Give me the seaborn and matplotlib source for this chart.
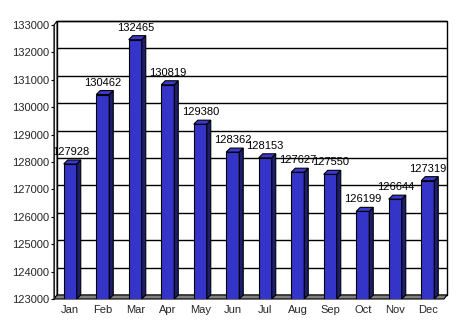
import matplotlib
matplotlib.use("Agg")
import matplotlib.pyplot as plt
import matplotlib.transforms as mtransforms
from matplotlib.patches import Polygon, Rectangle
import seaborn as sns
import pandas as pd

months = ["Jan", "Feb", "Mar", "Apr", "May", "Jun", "Jul", "Aug", "Sep", "Oct", "Nov", "Dec"]
values = [127928, 130462, 132465, 130819, 129380, 128362, 128153, 127627, 127550, 126199, 126644, 127319]
y_ticks = [123000, 124000, 125000, 126000, 127000, 128000, 129000, 130000, 131000, 132000, 133000]

sns.set_style("white")
plt.rcParams['font.family'] = ['Liberation Sans', 'DejaVu Sans']

W, H = 462, 325
fig = plt.figure(figsize=(W / 100, H / 100), dpi=100)
ax = fig.add_axes([54 / W, (H - 299) / H, 390 / W, 274 / H])
ax.patch.set_alpha(0)

df = pd.DataFrame({"month": months, "value": values})
sns.barplot(data=df, x="month", y="value", color="#3434C8", edgecolor="black",
            linewidth=0.8, width=0.4, saturation=1, ax=ax, zorder=3)

ymin, ymax = y_ticks[0], y_ticks[-1]
ax.set_ylim(ymin, ymax)
ax.set_xlim(-0.5, len(months) - 0.5)

# pixel -> data scale
px_x = (len(months)) / 390.0
px_y = (ymax - ymin) / 274.0

# back wall offset (px)
wdx, wdy = 3, 4
off = mtransforms.ScaledTranslation(wdx / 100, wdy / 100, fig.dpi_scale_trans)

# back wall
ax.add_patch(Rectangle((0, 0), 1, 1, transform=ax.transAxes + off, facecolor="white",
                       edgecolor="black", linewidth=1.0, zorder=0.1, clip_on=False))
# gridlines on back wall
ax.hlines(y_ticks, 0, 1, transform=ax.get_yaxis_transform() + off, colors="black",
          linewidth=1.0, zorder=0.3, clip_on=False)

# floor
fx0, fx1 = 0, 1
floor = Polygon([(0, 0), (1, 0), (1 + wdx / 390, wdy / 274), (wdx / 390, wdy / 274)],
                closed=True, transform=ax.transAxes, facecolor="#808080", edgecolor="black",
                linewidth=0.8, zorder=0.5, clip_on=False)
ax.add_patch(floor)
# left wall
lwall = Polygon([(0, 0), (wdx / 390, wdy / 274), (wdx / 390, 1 + wdy / 274), (0, 1)],
                closed=True, transform=ax.transAxes, facecolor="white", edgecolor="black",
                linewidth=0.8, zorder=0.4, clip_on=False)
ax.add_patch(lwall)

# 3D faces of bars
bdx, bdy = 4 * px_x, 4 * px_y
for p in ax.patches[:]:
    if not isinstance(p, Rectangle) or p.get_zorder() != 3:
        continue
    x0 = p.get_x()
    w = p.get_width()
    top = p.get_y() + p.get_height()
    x1 = x0 + w
    side = Polygon([(x1, ymin), (x1 + bdx, ymin + bdy), (x1 + bdx, top + bdy), (x1, top)],
                   closed=True, facecolor="#1E1E6E", edgecolor="black", linewidth=0.8,
                   zorder=3, clip_on=True)
    topf = Polygon([(x0, top), (x1, top), (x1 + bdx, top + bdy), (x0 + bdx, top + bdy)],
                   closed=True, facecolor="#3A3AD0", edgecolor="black", linewidth=0.8,
                   zorder=3, clip_on=False)
    ax.add_patch(side)
    ax.add_patch(topf)

# value labels
for i, v in enumerate(values):
    ax.annotate(f"{v}", (i, v), xytext=(0, 8.6), textcoords="offset points",
                ha="center", va="center", fontsize=8, color="black", zorder=5)

for s in ax.spines.values():
    s.set_visible(False)
ax.spines["left"].set_visible(True)
ax.spines["left"].set_linewidth(0.8)

ax.set_yticks(y_ticks)
ax.set_yticklabels([str(t) for t in y_ticks])
ax.tick_params(axis="y", length=2.5, width=0.8, pad=1, labelsize=8, left=True, color="black")
ax.tick_params(axis="x", length=0, pad=4, labelsize=8)
ax.set_xlabel("")
ax.set_ylabel("")

fig.savefig("out.png", dpi=100)
